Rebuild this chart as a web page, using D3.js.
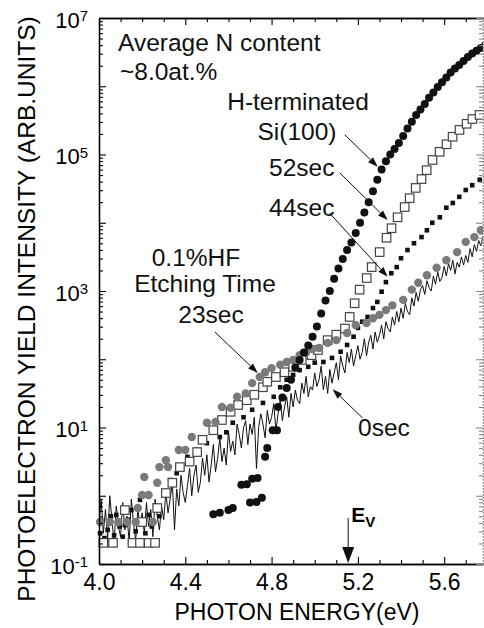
<!DOCTYPE html>
<html>
<head>
<meta charset="utf-8">
<script src="https://cdn.jsdelivr.net/npm/d3@7"></script>
<style>
  html, body { margin: 0; padding: 0; background: #fff; }
  svg { display: block; font-family: "Liberation Sans", Arial, Helvetica, sans-serif; }
</style>
</head>
<body>
<div id="viz"></div>
<script>
// ---- data (photon energy in eV, intensity as log10 of arb. units) ----

// H-terminated Si(100), black circles
const hTermEnergy = [4.53, 4.56, 4.60, 4.62, 4.66, 4.685, 4.70, 4.71, 4.73, 4.735, 4.755, 4.77, 4.78, 4.805, 4.825,
    4.83, 4.85, 4.87, 4.89, 4.91, 4.93, 4.95, 4.97, 4.99, 5.01, 5.03, 5.05, 5.07, 5.09, 5.11, 5.13, 5.15, 5.17, 5.19,
    5.21, 5.23, 5.25, 5.27, 5.29, 5.31, 5.33, 5.35, 5.37, 5.39, 5.41, 5.43, 5.45, 5.47, 5.49, 5.51, 5.53, 5.55, 5.57,
    5.59, 5.61, 5.63, 5.65, 5.67, 5.69, 5.71, 5.73, 5.75, 5.77, 5.79];
const hTermLogI = [-0.27, -0.25, -0.21, -0.18, 0.16, 0.17, -0.10, 0.25, -0.09, 0.26, -0.03, 0.57, 0.70, 0.96, 0.96,
    1.30, 1.44, 1.58, 1.70, 1.88, 1.99, 2.10, 2.20, 2.33, 2.48, 2.67, 2.86, 3.00, 3.18, 3.33, 3.47, 3.60, 3.71, 3.85,
    4.00, 4.15, 4.30, 4.46, 4.63, 4.78, 4.90, 5.00, 5.08, 5.17, 5.27, 5.38, 5.48, 5.58, 5.66, 5.74, 5.83, 5.91, 5.99,
    6.06, 6.13, 6.20, 6.26, 6.31, 6.37, 6.43, 6.48, 6.52, 6.56, 6.60];

// 52 sec, open squares
const sec52Energy = [4.02, 4.065, 4.12, 4.155, 4.19, 4.20, 4.23, 4.26, 4.27, 4.31, 4.34, 4.375, 4.42, 4.455, 4.48,
    4.53, 4.57, 4.61, 4.645, 4.685, 4.72, 4.76, 4.78, 4.82, 4.86, 4.90, 4.94, 4.985, 5.015, 5.06, 5.10, 5.14, 5.162,
    5.185, 5.208, 5.241, 5.264, 5.301, 5.333, 5.356, 5.384, 5.417, 5.44, 5.468, 5.495, 5.519, 5.546, 5.579, 5.611,
    5.639, 5.671, 5.704, 5.731, 5.764];
const sec52LogI = [-0.69, -0.69, -0.21, -0.69, -0.69, -0.385, -0.69, -0.69, -0.18, 0.04, 0.19, 0.42, 0.50, 0.64, 0.82,
    0.96, 1.11, 1.23, 1.33, 1.40, 1.48, 1.59, 1.67, 1.74, 1.81, 1.89, 1.99, 2.06, 2.135, 2.28, 2.36, 2.45, 2.62,
    2.82, 3.02, 3.19, 3.35, 3.57, 3.78, 3.92, 4.08, 4.23, 4.36, 4.51, 4.64, 4.77, 4.92, 5.04, 5.15,
    5.26, 5.36, 5.45, 5.52, 5.58];

// 44 sec, small filled squares
const sec44Energy = [4.005, 4.01, 4.025, 4.04, 4.055, 4.07, 4.08, 4.095, 4.11, 4.12, 4.135, 4.15, 4.17, 4.19, 4.205,
    4.215, 4.23, 4.245, 4.26, 4.28, 4.30, 4.33, 4.36, 4.41, 4.45, 4.50, 4.56, 4.59,
    4.62, 4.67, 4.71, 4.76, 4.81, 4.84, 4.87, 4.90, 4.93, 4.97, 5.00, 5.04, 5.08, 5.12, 5.15, 5.18, 5.20, 5.22, 5.245,
    5.27, 5.29, 5.31, 5.33, 5.355, 5.38, 5.40, 5.43, 5.46, 5.495, 5.52, 5.545, 5.58, 5.61, 5.64, 5.67, 5.70, 5.73, 5.765];
const sec44LogI = [-0.55, -0.36, -0.62, -0.50, -0.30, -0.58, -0.28, -0.45, -0.60, -0.43, -0.35, -0.21, -0.52, -0.06, -0.40,
    -0.55, -0.28, -0.45, -0.14, -0.30, 0.01, 0.23, 0.33, 0.57, 0.67, 0.77, 0.86, 0.93,
    1.07, 1.15, 1.26, 1.36, 1.45, 1.59, 1.70, 1.77, 1.84, 1.89, 1.95, 1.96, 2.02, 2.11, 2.21, 2.33, 2.46, 2.55, 2.62,
    2.75, 2.84, 2.99, 3.13, 3.26, 3.35, 3.48, 3.60, 3.70, 3.79, 3.89, 4.00, 4.08, 4.22, 4.29, 4.38, 4.48, 4.55, 4.63];

// 23 sec, gray circles
const sec23Energy = [4.005, 4.05, 4.09, 4.13, 4.17, 4.18, 4.20, 4.21, 4.23, 4.25, 4.27, 4.28, 4.31, 4.32, 4.37, 4.40,
    4.43, 4.50, 4.54, 4.57, 4.61, 4.64, 4.68, 4.71, 4.745, 4.77, 4.80, 4.84, 4.87, 4.90, 4.93, 4.96, 4.99, 5.02, 5.06,
    5.10, 5.15, 5.19, 5.24, 5.27, 5.30, 5.33, 5.36, 5.41, 5.45, 5.48, 5.52, 5.565, 5.61, 5.66, 5.70, 5.74, 5.77];
const sec23LogI = [-0.385, -0.385, -0.385, -0.385, -0.385, -0.18, 0.01, 0.275, 0.01, -0.385, 0.19, 0.42, 0.52, 0.42, 0.67, 0.67,
    0.86, 1.07, 1.08, 1.30, 1.29, 1.45, 1.50, 1.65, 1.74, 1.81, 1.87, 1.92, 1.96, 1.99, 2.06, 2.10, 2.15, 2.165, 2.24,
    2.28, 2.385, 2.50, 2.53, 2.60, 2.65, 2.72, 2.79, 2.87, 3.02, 3.12, 3.23, 3.34, 3.45, 3.57, 3.72, 3.79, 3.89];

// 0 sec, noisy line, scanned from 4.00 eV in 0.01 eV steps
const sec0Start = 4.00;
const sec0Step = 0.01;
const sec0LogI = [
    -0.40, -0.05, -0.55, -0.20, -0.62, 0.00, -0.35, -0.70, -0.15, -0.45,
    -0.60, -0.10, -0.50, -0.30, -0.68, -0.05, -0.40, -0.65, -0.20, -0.45,
    -0.25, -0.55, -0.10, -0.45, -0.20, -0.60, -0.05, -0.30, -0.50, -0.15,
    -0.35, 0.05, -0.25, -0.05, 0.20, -0.50, 0.10, -0.15, 0.30, 0.05,
    -0.10, 0.15, 0.40, 0.00, 0.30, 0.45, 0.05, 0.20, 0.55, 0.30,
    0.60, 0.20, 0.45, 0.75, 0.35, 0.55, 0.85, 0.50, 0.70, 0.45,
    0.95, 0.65, 0.80, 0.60, 1.05, 0.90, 0.70, 1.00, 1.10, 0.75,
    1.05, 0.90, 1.15, 0.40, 1.00, 1.20, 1.05, 0.85, 1.25, 1.05,
    1.15, 1.35, 0.95, 1.20, 1.40, 1.10, 1.30, 1.45, 1.15, 1.50,
    1.30, 1.55, 1.40, 1.35, 1.65, 1.50, 1.75, 1.45, 1.60, 1.55,
    1.80, 1.60, 1.70, 1.90, 1.55, 1.75, 1.50, 1.85, 1.65, 1.80,
    1.95, 1.70, 2.05, 1.90, 1.80, 2.10, 1.95, 2.15, 1.90, 2.05,
    2.20, 2.00, 2.10, 2.30, 2.05, 2.25, 2.35, 2.15, 2.40, 2.25,
    2.35, 2.50, 2.30, 2.55, 2.45, 2.40, 2.62, 2.50, 2.70, 2.55,
    2.75, 2.60, 2.82, 2.70, 2.65, 2.90, 2.78, 2.98, 2.85, 3.02,
    3.08, 2.95, 3.15, 3.05, 3.00, 3.22, 3.10, 3.28, 3.14, 3.20,
    3.36, 3.22, 3.40, 3.30, 3.45, 3.25, 3.42, 3.35, 3.50, 3.38,
    3.52, 3.42, 3.62, 3.50, 3.68, 3.58, 3.74, 3.66, 3.80
];

// axes
const xMajorTicks = [4.0, 4.4, 4.8, 5.2, 5.6];
const xTickLabels = ["4.0", "4.4", "4.8", "5.2", "5.6"];
const xMinorTicks = [4.1, 4.2, 4.3, 4.5, 4.6, 4.7, 4.9, 5.0, 5.1, 5.3, 5.4, 5.5, 5.7];
const yDecades = [1e-1, 1e0, 1e1, 1e2, 1e3, 1e4, 1e5, 1e6, 1e7];
const yLabelExps = [-1, 1, 3, 5, 7];

// valence band edge marker
const evEnergy = 5.155;

// annotation arrows: [energy, log10 I] from -> to
const arrowNotes = [
    {from: [5.139, 5.29], to: [5.292, 4.82]},   // H-terminated
    {from: [5.116, 4.73], to: [5.338, 4.04]},   // 52sec
    {from: [5.069, 4.14], to: [5.338, 3.21]},   // 44sec
    {from: [4.537, 2.40], to: [4.736, 1.80]},   // 23sec
    {from: [5.222, 1.14], to: [5.083, 1.56]}    // 0sec
];

const state = {
    dims: {
        width: 484, height: 628,
        left: 99, right: 483, top: 18, bottom: 564
    },
    font: 24.5
};

const toPoints = (energies, logs) => energies.map((e, i) => ({e: e, v: Math.pow(10, logs[i])}));

const xScale = d3.scaleLinear().domain([4.0, 5.78]).range([state.dims.left, state.dims.right]);
const yScale = d3.scaleLog().domain([0.1, 1e7]).range([state.dims.bottom, state.dims.top]);

const svg = d3.select("#viz")
    .append("svg")
    .attr("width", state.dims.width)
    .attr("height", state.dims.height)
    .attr("viewBox", `0 0 ${state.dims.width} ${state.dims.height}`);

svg.append("defs").append("clipPath")
    .attr("id", "plot-clip")
    .append("rect")
    .attr("x", state.dims.left - 8)
    .attr("y", state.dims.top)
    .attr("width", state.dims.right - state.dims.left + 8)
    .attr("height", state.dims.bottom - state.dims.top + 4);

const plot = svg.append("g").attr("clip-path", "url(#plot-clip)");

// 0sec noisy line
const sec0Points = sec0LogI.map((l, i) => ({e: sec0Start + i * sec0Step, v: Math.pow(10, l)}));
plot.append("path")
    .datum(sec0Points)
    .attr("fill", "none")
    .attr("stroke", "#111")
    .attr("stroke-width", 1)
    .attr("d", d3.line().x(d => xScale(d.e)).y(d => yScale(d.v)));

// 44sec small black squares
const s44 = 4.6;
plot.append("g").selectAll("rect")
    .data(toPoints(sec44Energy, sec44LogI))
    .join("rect")
    .attr("x", d => xScale(d.e) - s44 / 2)
    .attr("y", d => yScale(d.v) - s44 / 2)
    .attr("width", s44)
    .attr("height", s44)
    .attr("fill", "#111");

// 52sec open squares
const s52 = 8.5;
plot.append("g").selectAll("rect")
    .data(toPoints(sec52Energy, sec52LogI))
    .join("rect")
    .attr("x", d => xScale(d.e) - s52 / 2)
    .attr("y", d => yScale(d.v) - s52 / 2)
    .attr("width", s52)
    .attr("height", s52)
    .attr("fill", "#fff")
    .attr("stroke", "#444")
    .attr("stroke-width", 1.2);

// 23sec gray circles
plot.append("g").selectAll("circle")
    .data(toPoints(sec23Energy, sec23LogI))
    .join("circle")
    .attr("cx", d => xScale(d.e))
    .attr("cy", d => yScale(d.v))
    .attr("r", 4.2)
    .attr("fill", "#7a7a7a");

// H-terminated black circles
plot.append("g").selectAll("circle")
    .data(toPoints(hTermEnergy, hTermLogI))
    .join("circle")
    .attr("cx", d => xScale(d.e))
    .attr("cy", d => yScale(d.v))
    .attr("r", 4)
    .attr("fill", "#111");

// ---- axes ----
function styleAxis(g, color) {
    g.selectAll("path.domain").attr("stroke", color).attr("stroke-width", 1.3);
    g.selectAll(".tick line").attr("stroke", color).attr("stroke-width", 1.1);
    g.attr("font-family", null).attr("font-size", null);
}

// bottom
const bottomG = svg.append("g").attr("transform", `translate(0,${state.dims.bottom})`);
bottomG.append("g")
    .call(d3.axisBottom(xScale).tickValues(xMinorTicks).tickSize(-4).tickSizeOuter(0).tickFormat(""))
    .call(g => styleAxis(g, "#000"));
bottomG.append("g")
    .call(d3.axisBottom(xScale).tickValues(xMajorTicks).tickSize(-7).tickSizeOuter(0).tickPadding(10)
        .tickFormat((d, i) => xTickLabels[i]))
    .call(g => styleAxis(g, "#000"))
    .call(g => g.selectAll(".tick text").attr("font-size", "23px").attr("fill", "#000"));

// top
const topG = svg.append("g").attr("transform", `translate(0,${state.dims.top})`);
topG.append("g")
    .call(d3.axisTop(xScale).tickValues(xMinorTicks).tickSize(-4).tickSizeOuter(0).tickFormat(""))
    .call(g => styleAxis(g, "#000"));
topG.append("g")
    .call(d3.axisTop(xScale).tickValues(xMajorTicks).tickSize(-7).tickSizeOuter(0).tickFormat(""))
    .call(g => styleAxis(g, "#000"));

// left
const yMinorTicks = yScale.ticks().filter(d => !yDecades.some(p => Math.abs(p - d) / p < 1e-6));
const leftG = svg.append("g").attr("transform", `translate(${state.dims.left},0)`);
leftG.append("g")
    .call(d3.axisLeft(yScale).tickValues(yMinorTicks).tickSize(-4).tickSizeOuter(0).tickFormat(""))
    .call(g => styleAxis(g, "#000"));
leftG.append("g")
    .call(d3.axisLeft(yScale).tickValues(yDecades).tickSize(-7).tickSizeOuter(0).tickPadding(11))
    .call(g => styleAxis(g, "#000"))
    .call(g => g.selectAll(".tick text")
        .attr("fill", "#000")
        .attr("font-size", "22px")
        .attr("dy", "0.42em")
        .each(function(d) {
            const exp = Math.round(Math.log10(d));
            const t = d3.select(this).text(null);
            if (!yLabelExps.includes(exp)) return;
            t.append("tspan").text("10");
            t.append("tspan").attr("dy", "-0.45em").attr("font-size", "15px").text(exp);
        }));

// right (faint, dotted)
const rightG = svg.append("g").attr("transform", `translate(${state.dims.right},0)`);
rightG.append("g")
    .call(d3.axisRight(yScale).tickValues(yMinorTicks).tickSize(-4).tickSizeOuter(0).tickFormat(""))
    .call(g => styleAxis(g, "#888"))
    .call(g => g.selectAll("path.domain").attr("stroke-dasharray", "1.5,1.5"));
rightG.append("g")
    .call(d3.axisRight(yScale).tickValues(yDecades).tickSize(-7).tickSizeOuter(0).tickFormat(""))
    .call(g => styleAxis(g, "#888"))
    .call(g => g.selectAll("path.domain").attr("stroke-dasharray", "1.5,1.5"));

// axis titles
svg.append("text")
    .attr("transform", "translate(35,309) rotate(-90)")
    .attr("text-anchor", "middle")
    .attr("font-size", "24.5px")
    .text("PHOTOELECTRON YIELD INTENSITY (ARB.UNITS)");

svg.append("text")
    .attr("x", 297)
    .attr("y", 620)
    .attr("text-anchor", "middle")
    .attr("font-size", "23px")
    .text("PHOTON ENERGY(eV)");

// ---- annotations ----
const notes = [
    {text: "Average N content", x: 118, y: 51, anchor: "start"},
    {text: "~8.0at.%", x: 120, y: 80, anchor: "start"},
    {text: "H-terminated", x: 298, y: 110, anchor: "middle"},
    {text: "Si(100)", x: 297, y: 140, anchor: "middle"},
    {text: "52sec", x: 269, y: 176, anchor: "start"},
    {text: "44sec", x: 269, y: 216, anchor: "start"},
    {text: "0.1%HF", x: 196, y: 266, anchor: "middle"},
    {text: "Etching Time", x: 205, y: 292, anchor: "middle"},
    {text: "23sec", x: 211, y: 323, anchor: "middle"},
    {text: "0sec", x: 358, y: 436, anchor: "start"}
];

svg.append("g").selectAll("text")
    .data(notes)
    .join("text")
    .attr("x", d => d.x)
    .attr("y", d => d.y)
    .attr("text-anchor", d => d.anchor)
    .attr("font-size", state.font + "px")
    .attr("fill", "#111")
    .text(d => d.text);

function drawArrow(g, x1, y1, x2, y2, headLen, headHalf) {
    const ang = Math.atan2(y2 - y1, x2 - x1);
    const bx = x2 - headLen * Math.cos(ang);
    const by = y2 - headLen * Math.sin(ang);
    g.append("line")
        .attr("x1", x1).attr("y1", y1)
        .attr("x2", bx).attr("y2", by)
        .attr("stroke", "#111")
        .attr("stroke-width", 1);
    const px = -Math.sin(ang) * headHalf;
    const py = Math.cos(ang) * headHalf;
    g.append("path")
        .attr("d", `M${x2},${y2}L${bx + px},${by + py}L${bx - px},${by - py}Z`)
        .attr("fill", "#111");
}

const arrowG = svg.append("g");
arrowNotes.forEach(a => {
    drawArrow(arrowG,
        xScale(a.from[0]), yScale(Math.pow(10, a.from[1])),
        xScale(a.to[0]), yScale(Math.pow(10, a.to[1])),
        10, 3.5);
});

// E_V marker
const evX = xScale(evEnergy);
drawArrow(arrowG, evX, 518, evX, state.dims.bottom - 1, 16, 6);

const evLabel = svg.append("text")
    .attr("x", evX + 3)
    .attr("y", 522)
    .attr("font-size", "21px")
    .attr("font-weight", "bold");
evLabel.append("tspan").text("E");
evLabel.append("tspan").attr("dy", "0.3em").attr("font-size", "15px").text("V");
</script>
</body>
</html>
